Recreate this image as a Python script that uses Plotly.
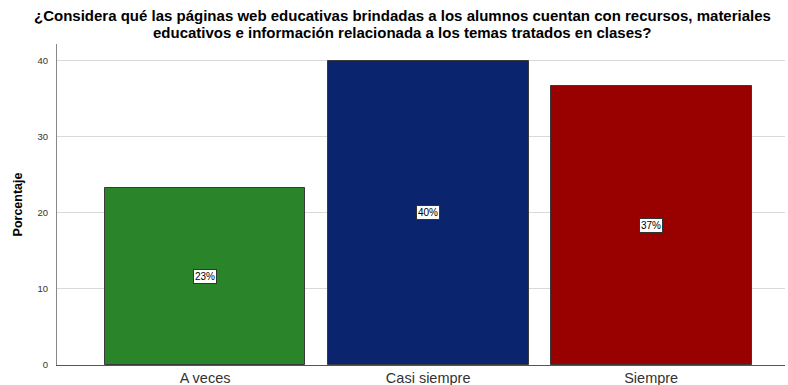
import plotly.graph_objects as go

# Response categories and their percentages
categories = ["A veces", "Casi siempre", "Siempre"]
percentages = [23.33, 40.0, 36.67]
bar_labels = ["23%", "40%", "37%"]
bar_colors = ["#2a852a", "#0a246e", "#990000"]
y_ticks = [0, 10, 20, 30, 40]

title_lines = [
    "¿Considera qué las páginas web educativas brindadas a los alumnos cuentan con recursos, materiales",
    "educativos e información relacionada a los temas tratados en clases?",
]

FONT = "Liberation Sans, Arial, sans-serif"
PLOT_TOP, PLOT_BOTTOM = 44, 365
PLOT_H = PLOT_BOTTOM - PLOT_TOP

fig = go.Figure()
fig.add_trace(go.Bar(
    x=list(range(len(categories))),
    y=percentages,
    width=0.9,
    marker=dict(color=bar_colors, line=dict(color="#3a3a3a", width=1)),
    hoverinfo="skip",
))

# Value boxes at half the bar height
for i, (v, lab) in enumerate(zip(percentages, bar_labels)):
    fig.add_annotation(
        x=i, y=v / 2, text=lab, showarrow=False,
        font=dict(family=FONT, size=10, color="#000"),
        bgcolor="white", bordercolor="#333", borderwidth=1, borderpad=1,
    )

# Two-line bold title, each line placed on its own
for line, py in zip(title_lines, [15, 32]):
    fig.add_annotation(
        xref="paper", yref="paper",
        x=0.474, y=(PLOT_BOTTOM - py) / PLOT_H,
        xanchor="center", yanchor="middle",
        text="<b>" + line + "</b>", showarrow=False,
        font=dict(family=FONT, size=15, color="#000"),
    )

fig.update_layout(
    width=788, height=385,
    margin=dict(l=57, r=3, t=PLOT_TOP, b=385 - PLOT_BOTTOM),
    paper_bgcolor="white", plot_bgcolor="white",
    showlegend=False,
    bargap=0,
    font=dict(family=FONT),
)

fig.update_xaxes(
    range=[-0.664, 2.6],
    tickmode="array", tickvals=list(range(len(categories))), ticktext=categories,
    tickfont=dict(size=14.5, color="#333"),
    showline=True, linecolor="#555", linewidth=1,
    showgrid=False, zeroline=False, ticks="",
    ticklabelstandoff=0, automargin=False,
)
fig.update_yaxes(
    range=[0, 42.2],
    tickmode="array", tickvals=y_ticks,
    tickfont=dict(size=9.5, color="#333"),
    showline=True, linecolor="#888", linewidth=1,
    showgrid=True, gridcolor="#d9d9d9", gridwidth=1,
    zeroline=False, ticks="",
    ticklabelstandoff=6, automargin=False,
    title=dict(text="<b>Porcentaje</b>", font=dict(size=12.5, color="#000"), standoff=12),
)

fig.write_html("out.html")
